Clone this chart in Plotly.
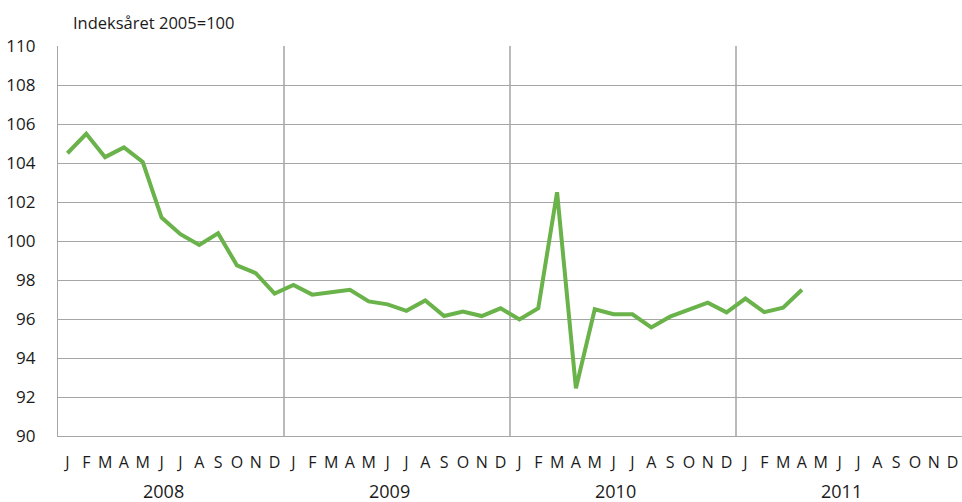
import plotly.graph_objects as go

months = ["J", "F", "M", "A", "M", "J", "J", "A", "S", "O", "N", "D"]
years = ["2008", "2009", "2010", "2011"]
values_2008 = [104.5, 105.5, 104.3, 104.8, 104.05, 101.2, 100.35, 99.8, 100.4, 98.75, 98.35, 97.3]
values_2009 = [97.75, 97.25, 97.37, 97.5, 96.9, 96.75, 96.42, 96.95, 96.15, 96.38, 96.15, 96.55]
values_2010 = [95.98, 96.55, 102.5, 92.45, 96.5, 96.25, 96.24, 95.57, 96.12, 96.5, 96.84, 96.34]
values_2011 = [97.05, 96.35, 96.58, 97.5, None, None, None, None, None, None, None, None]
y_ticks = [90, 92, 94, 96, 98, 100, 102, 104, 106, 108, 110]
unit_label = "Indeksåret 2005=100"

values = values_2008 + values_2009 + values_2010 + values_2011
n = len(values)
x = list(range(n))
tick_text = months * len(years)

font = "Open Sans, Noto Sans, sans-serif"
grid_col = "#a6a6a6"

fig = go.Figure()
fig.add_trace(go.Scatter(
    x=x, y=values, mode="lines",
    line=dict(color="#6ab24a", width=4),
    connectgaps=False, hoverinfo="skip", showlegend=False,
))

shapes = []
for i in range(1, len(years)):
    b = i * 12 - 0.5
    shapes.append(dict(type="line", xref="x", yref="paper", x0=b, x1=b, y0=0, y1=1,
                       line=dict(color="#8c8c8c", width=1.2), layer="below"))

annotations = [dict(text=unit_label, xref="paper", yref="paper", x=0.016, y=1.0,
                    yshift=24, xanchor="left", yanchor="middle", showarrow=False,
                    borderpad=0, font=dict(family=font, size=16.5, color="#1a1a1a"))]
for i, yr in enumerate(years):
    annotations.append(dict(text=yr, xref="x", yref="paper", x=i * 12 + 5.1, y=0,
                            yshift=-55, xanchor="center", yanchor="middle", showarrow=False,
                            borderpad=0, font=dict(family=font, size=18, color="#1a1a1a")))

fig.update_layout(
    width=962, height=502,
    margin=dict(l=58, r=0, t=46, b=66, autoexpand=False),
    paper_bgcolor="white", plot_bgcolor="white",
    shapes=shapes, annotations=annotations,
    xaxis=dict(
        range=[-0.5, n - 0.5], tickmode="array", tickvals=x, ticktext=tick_text,
        showgrid=False, zeroline=False, showline=True, linecolor=grid_col, linewidth=1.2,
        ticks="", ticklabelstandoff=12, automargin=False,
        tickfont=dict(family=font, size=16, color="#1a1a1a"), fixedrange=True,
    ),
    yaxis=dict(
        range=[90, 110], tickmode="array", tickvals=y_ticks,
        showgrid=True, gridcolor=grid_col, gridwidth=1.2, zeroline=False,
        showline=True, linecolor=grid_col, linewidth=1.2, ticks="",
        ticklabelstandoff=18, automargin=False,
        tickfont=dict(family=font, size=17, color="#1a1a1a"), fixedrange=True,
    ),
)

fig.write_html(
    "out.html",
    config={"displayModeBar": False},
    post_script="document.body.style.margin='0';document.body.style.overflow='hidden';",
)
